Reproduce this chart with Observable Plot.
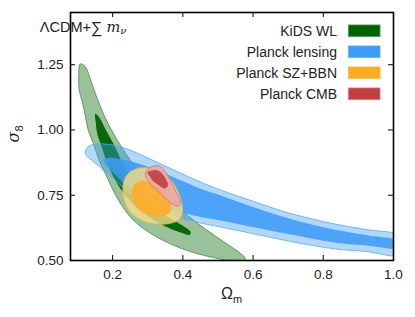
<!DOCTYPE html>
<html><head><meta charset="utf-8">
<script src="https://cdn.jsdelivr.net/npm/d3@7"></script>
<script src="https://cdn.jsdelivr.net/npm/@observablehq/plot@0.6"></script>
<style>
body{margin:0;background:#fff;}
svg{font-family:"Liberation Sans",Arial,sans-serif;}
</style></head><body><div id="chart"></div>
<script>
const xTicks = [0.2, 0.4, 0.6, 0.8, 1.0];
const yTicks = [0.50, 0.75, 1.00, 1.25];
const seriesNames = ["KiDS WL", "Planck lensing", "Planck SZ+BBN", "Planck CMB"];
const seriesColors = ["#006400", "#3d9cf6", "#ffab24", "#c23f3f"];
const outerColors = ["#6fa86f", "#3d9cf6", "#f8dc8c", "#e8a4a4"];
const edgeColors = ["#4a8a4a", "#5aaaf2", "#f2b640", "#d27272"];

// contour vertices [Omega_m, sigma_8]
const kidsOuter = [[0.1077,1.253],[0.1034,1.208],[0.1049,1.151],[0.1126,1.113],[0.122,1.055],[0.1306,0.998],[0.1457,0.947],[0.162,0.883],[0.184,0.819],[0.217,0.730],[0.260,0.653],[0.327,0.589],[0.4126,0.538],[0.5077,0.505],[0.565,0.492],[0.578,0.508],[0.565,0.526],[0.498,0.589],[0.431,0.653],[0.365,0.730],[0.298,0.806],[0.2506,0.883],[0.203,0.985],[0.176,1.055],[0.153,1.132],[0.136,1.197],[0.122,1.243]];
const kidsInner = [[0.1506,1.0616],[0.152,1.028],[0.1563,0.986],[0.1677,0.940],[0.1877,0.863],[0.2163,0.787],[0.2563,0.718],[0.302,0.668],[0.3506,0.630],[0.3934,0.607],[0.419,0.598],[0.422,0.609],[0.399,0.634],[0.365,0.661],[0.3306,0.691],[0.296,0.737],[0.262,0.799],[0.2306,0.868],[0.202,0.948],[0.179,1.005],[0.162,1.048]];
const lensOuter = [[0.122,0.9135],[0.1306,0.9364],[0.1506,0.946],[0.1791,0.946],[0.2077,0.9403],[0.242,0.9269],[0.2791,0.9058],[0.3163,0.8828],[0.3563,0.858],[0.3934,0.835],[0.4506,0.8005],[0.5077,0.7699],[0.602,0.7259],[0.7077,0.6799],[0.8306,0.6405],[0.922,0.6187],[1.022,0.5946],[1.03,0.557],[1.022,0.5203],[0.922,0.5345],[0.8306,0.5448],[0.7077,0.5727],[0.602,0.6022],[0.5077,0.6283],[0.4506,0.6436],[0.3934,0.6646],[0.3363,0.6914],[0.2983,0.7144],[0.2649,0.745],[0.2314,0.7776],[0.1991,0.8178],[0.1649,0.8572],[0.142,0.8828],[0.1277,0.8982]];
const lensInner = [[0.1743,0.8867],[0.1934,0.8943],[0.222,0.8886],[0.2649,0.8752],[0.2991,0.8599],[0.3363,0.8407],[0.3791,0.8159],[0.422,0.791],[0.4506,0.7745],[0.5077,0.7489],[0.602,0.7041],[0.7077,0.6589],[0.8306,0.6187],[0.922,0.5976],[1.022,0.5747],[1.03,0.56],[1.022,0.5459],[0.922,0.5574],[0.8306,0.5689],[0.7077,0.5995],[0.602,0.6275],[0.5077,0.6531],[0.4506,0.6665],[0.3934,0.6857],[0.3269,0.7144],[0.2697,0.7565],[0.2363,0.791],[0.2126,0.8216],[0.1934,0.8484],[0.1791,0.8675]];
const szOuter = [[0.2791,0.8541],[0.322,0.8484],[0.3563,0.8216],[0.382,0.7757],[0.3963,0.722],[0.3991,0.6838],[0.3849,0.653],[0.3506,0.6397],[0.3134,0.6417],[0.2734,0.6608],[0.2449,0.6953],[0.2306,0.7489],[0.232,0.8025],[0.2477,0.8369]];
const szInner = [[0.2734,0.8025],[0.2963,0.8044],[0.322,0.7833],[0.3477,0.7527],[0.3649,0.7182],[0.3649,0.6876],[0.3449,0.6704],[0.3163,0.6685],[0.2849,0.6838],[0.262,0.7182],[0.2549,0.7565],[0.2591,0.7871]];
const cmbOuter = [[0.2991,0.8484],[0.3163,0.8618],[0.3363,0.8599],[0.3506,0.8407],[0.3677,0.7986],[0.3849,0.7527],[0.3934,0.7221],[0.3877,0.7087],[0.3734,0.7125],[0.3506,0.7374],[0.3249,0.7718],[0.302,0.8025],[0.2934,0.8254]];
const cmbInner = [[0.2991,0.8369],[0.322,0.8465],[0.3363,0.8388],[0.3506,0.8139],[0.3577,0.7871],[0.3477,0.7757],[0.3306,0.789],[0.3134,0.8063],[0.3063,0.8216]];

const contours = [
  {pts: kidsOuter, c: 0, outer: true, op: 0.7}, {pts: kidsInner, c: 0, outer: false, op: 0.95},
  {pts: lensOuter, c: 1, outer: true, op: 0.4}, {pts: lensInner, c: 1, outer: false, op: 0.88},
  {pts: szOuter, c: 2, outer: true, op: 0.8}, {pts: szInner, c: 2, outer: false, op: 0.88},
  {pts: cmbOuter, c: 3, outer: true, op: 0.8}, {pts: cmbInner, c: 3, outer: false, op: 0.9}
];

const W = 415, H = 317, mL = 70, mR = 22, mT = 12, mB = 57;
const fw = W - mL - mR, fh = H - mT - mB;

const marks = contours.map(k => Plot.line(k.pts, {
  x: d => d[0], y: d => d[1], curve: "catmull-rom-closed", clip: true,
  fill: k.outer ? outerColors[k.c] : seriesColors[k.c], fillOpacity: k.op,
  stroke: k.outer ? edgeColors[k.c] : "none", strokeOpacity: 0.9, strokeWidth: 0.9
}));

const plot = Plot.plot({
  width: W, height: H, marginLeft: mL, marginRight: mR, marginTop: mT, marginBottom: mB,
  x: {domain: [0.08, 1.0]}, y: {domain: [0.5, 1.45]},
  style: {background: "white", fontFamily: "Liberation Sans, Arial, sans-serif", overflow: "visible"},
  marks: [
    ...marks,
    Plot.tickX(xTicks, {x: d => d, insetTop: fh - 5, stroke: "black", strokeWidth: 1}),
    Plot.tickX(xTicks, {x: d => d, insetBottom: fh - 5, stroke: "black", strokeWidth: 1}),
    Plot.tickY(yTicks, {y: d => d, insetRight: fw - 5, stroke: "black", strokeWidth: 1}),
    Plot.tickY(yTicks, {y: d => d, insetLeft: fw - 5, stroke: "black", strokeWidth: 1}),
    Plot.axisX({ticks: xTicks, tickSize: 0, tickPadding: 9, tickFormat: d3.format(".1f"), label: null, fontSize: 13.5, fill: "#222"}),
    Plot.axisY({ticks: yTicks, tickSize: 0, tickPadding: 7, tickFormat: d3.format(".2f"), label: null, fontSize: 13.5, fill: "#222"}),
    Plot.frame({stroke: "black", strokeWidth: 1.6})
  ]
});
document.getElementById("chart").appendChild(plot);

const svg = d3.select(plot);
// axis labels
const xl = svg.append("text").attr("x", mL + fw / 2).attr("y", 298.5).attr("text-anchor", "middle").attr("font-size", 16).attr("fill", "#222");
xl.append("tspan").text("Ω");
xl.append("tspan").attr("font-size", 11).attr("dy", 4).text("m");
const yl = svg.append("text").attr("transform", `translate(18.5,${mT + fh / 2 - 2}) rotate(-90)`).attr("text-anchor", "middle").attr("font-size", 16).attr("fill", "#222");
yl.append("tspan").attr("font-style", "italic").attr("font-family", "DejaVu Serif, serif").text("σ");
yl.append("tspan").attr("font-size", 11).attr("dy", 4).text("8");
// title
const tt = svg.append("text").attr("x", 83).attr("y", 32).attr("font-size", 14.5).attr("fill", "#222");
tt.append("tspan").text("ΛCDM+");
tt.append("tspan").attr("font-size", 16).attr("dy", 1).text("∑");
tt.append("tspan").attr("dx", 4).attr("dy", -1).attr("font-style", "italic").attr("font-family", "DejaVu Serif, serif").text("m");
tt.append("tspan").attr("font-style", "italic").attr("font-family", "DejaVu Serif, serif").attr("font-size", 10).attr("dy", 2).text("ν");
// legend
const lg = svg.append("g");
seriesNames.forEach((name, i) => {
  lg.append("rect").attr("x", 348.5).attr("y", 25 + 21 * i).attr("width", 31.5).attr("height", 11.5)
    .attr("fill", seriesColors[i]).attr("stroke", edgeColors[i]).attr("stroke-opacity", 0.7).attr("stroke-width", 1.2);
  lg.append("text").attr("x", 337).attr("y", 36 + 21 * i).attr("text-anchor", "end").attr("font-size", 14).attr("fill", "#222").text(name);
});
</script></body></html>
